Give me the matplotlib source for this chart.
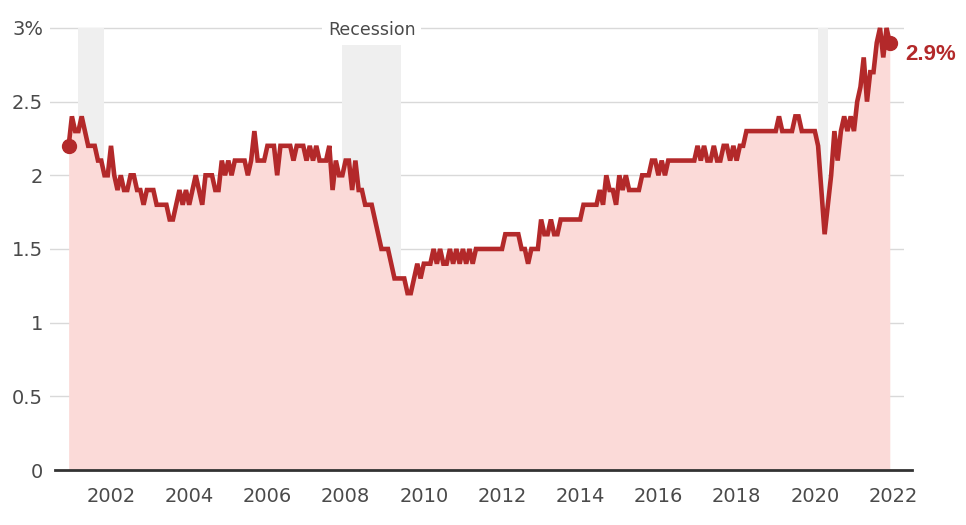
import numpy as np
import matplotlib.pyplot as plt

# monthly values, Dec 2000 .. Dec 2021 (percent)
start = 2000 + 11 / 12
rate_2000 = [2.2]
rate_2001 = [2.4, 2.3, 2.3, 2.4, 2.3, 2.2, 2.2, 2.2, 2.1, 2.1, 2.0, 2.0]
rate_2002 = [2.2, 2.0, 1.9, 2.0, 1.9, 1.9, 2.0, 2.0, 1.9, 1.9, 1.8, 1.9]
rate_2003 = [1.9, 1.9, 1.8, 1.8, 1.8, 1.8, 1.7, 1.7, 1.8, 1.9, 1.8, 1.9]
rate_2004 = [1.8, 1.9, 2.0, 1.9, 1.8, 2.0, 2.0, 2.0, 1.9, 1.9, 2.1, 2.0]
rate_2005 = [2.1, 2.0, 2.1, 2.1, 2.1, 2.1, 2.0, 2.1, 2.3, 2.1, 2.1, 2.1]
rate_2006 = [2.2, 2.2, 2.2, 2.0, 2.2, 2.2, 2.2, 2.2, 2.1, 2.2, 2.2, 2.2]
rate_2007 = [2.1, 2.2, 2.1, 2.2, 2.1, 2.1, 2.1, 2.2, 1.9, 2.1, 2.0, 2.0]
rate_2008 = [2.1, 2.1, 1.9, 2.1, 1.9, 1.9, 1.8, 1.8, 1.8, 1.7, 1.6, 1.5]
rate_2009 = [1.5, 1.5, 1.4, 1.3, 1.3, 1.3, 1.3, 1.2, 1.2, 1.3, 1.4, 1.3]
rate_2010 = [1.4, 1.4, 1.4, 1.5, 1.4, 1.5, 1.4, 1.4, 1.5, 1.4, 1.5, 1.4]
rate_2011 = [1.5, 1.4, 1.5, 1.4, 1.5, 1.5, 1.5, 1.5, 1.5, 1.5, 1.5, 1.5]
rate_2012 = [1.5, 1.6, 1.6, 1.6, 1.6, 1.6, 1.5, 1.5, 1.4, 1.5, 1.5, 1.5]
rate_2013 = [1.7, 1.6, 1.6, 1.7, 1.6, 1.6, 1.7, 1.7, 1.7, 1.7, 1.7, 1.7]
rate_2014 = [1.7, 1.8, 1.8, 1.8, 1.8, 1.8, 1.9, 1.8, 2.0, 1.9, 1.9, 1.8]
rate_2015 = [2.0, 1.9, 2.0, 1.9, 1.9, 1.9, 1.9, 2.0, 2.0, 2.0, 2.1, 2.1]
rate_2016 = [2.0, 2.1, 2.0, 2.1, 2.1, 2.1, 2.1, 2.1, 2.1, 2.1, 2.1, 2.1]
rate_2017 = [2.2, 2.1, 2.2, 2.1, 2.1, 2.2, 2.1, 2.1, 2.2, 2.2, 2.1, 2.2]
rate_2018 = [2.1, 2.2, 2.2, 2.3, 2.3, 2.3, 2.3, 2.3, 2.3, 2.3, 2.3, 2.3]
rate_2019 = [2.3, 2.4, 2.3, 2.3, 2.3, 2.3, 2.4, 2.4, 2.3, 2.3, 2.3, 2.3]
rate_2020 = [2.3, 2.2, 1.9, 1.6, 1.8, 2.0, 2.3, 2.1, 2.3, 2.4, 2.3, 2.4]
rate_2021 = [2.3, 2.5, 2.6, 2.8, 2.5, 2.7, 2.7, 2.9, 3.0, 2.8, 3.0, 2.9]

recessions = [(2001 + 2 / 12, 2001 + 10 / 12), (2007 + 11 / 12, 2009 + 5 / 12), (2020 + 1 / 12, 2020 + 4 / 12)]
year_ticks = list(range(2002, 2023, 2))
y_ticks = [0, 0.5, 1, 1.5, 2, 2.5, 3]
y_labels = ['0', '0.5', '1', '1.5', '2', '2.5', '3%']

values = np.array(rate_2000 + rate_2001 + rate_2002 + rate_2003 + rate_2004 + rate_2005 +
                  rate_2006 + rate_2007 + rate_2008 + rate_2009 + rate_2010 + rate_2011 +
                  rate_2012 + rate_2013 + rate_2014 + rate_2015 + rate_2016 + rate_2017 +
                  rate_2018 + rate_2019 + rate_2020 + rate_2021)
dates = start + np.arange(len(values)) / 12

red = '#b3292a'
pink = '#fbdad8'
text_col = '#4a4a4a'

fig = plt.figure(figsize=(9.66, 5.25), dpi=100)
ax = fig.add_axes([50 / 966, 55 / 525, 854 / 966, 445 / 525])
ax.set_xlim(2000.44, 2022.28)
ax.set_ylim(0, 3.02)

for y in y_ticks[1:]:
    ax.axhline(y, color='#d9d9d9', linewidth=1, zorder=0)

for a, b in recessions:
    ax.axvspan(a, b, ymax=3.0 / 3.02, color='#efefef', linewidth=0, zorder=1)

ax.fill_between(dates, values, 0, color=pink, linewidth=0, zorder=2)
ax.plot(dates, values, color=red, linewidth=3.3, solid_joinstyle='miter', zorder=3)
ax.plot([dates[0], dates[-1]], [values[0], values[-1]], 'o', color=red, markersize=10, zorder=4)

ax.axhline(0, xmin=5 / 854, xmax=862 / 854, color='#333333', linewidth=2, clip_on=False, zorder=5)

ax.text((recessions[1][0] + recessions[1][1]) / 2, 2.985, 'Recession', ha='center', va='center',
        fontsize=12.5, color=text_col, zorder=6,
        bbox=dict(facecolor='white', edgecolor='none', pad=4))
ax.text(dates[-1] + 0.4, values[-1] - 0.08, '{:.1f}%'.format(values[-1]), ha='left', va='center',
        fontsize=16, fontweight='bold', color=red, family=['Liberation Sans', 'DejaVu Sans'])

ax.set_xticks(year_ticks)
ax.set_xticklabels([str(y) for y in year_ticks])
ax.set_yticks(y_ticks)
ax.set_yticklabels(y_labels)
ax.tick_params(axis='both', length=0, labelsize=14, labelcolor=text_col)
ax.tick_params(axis='x', pad=12)
ax.tick_params(axis='y', pad=5)
for s in ax.spines.values():
    s.set_visible(False)

plt.savefig('out.png', dpi=100)
